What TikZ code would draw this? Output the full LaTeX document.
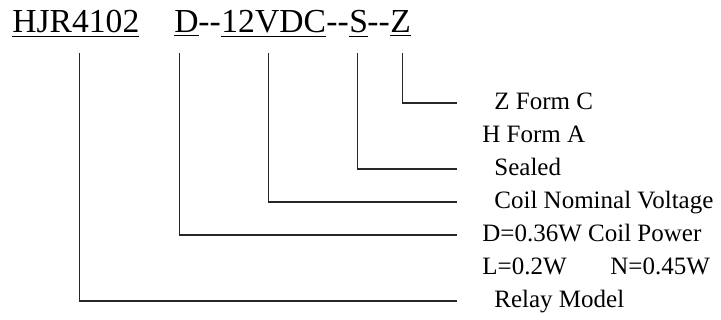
\documentclass[tikz,border=0pt]{standalone}
\usepackage{fontspec}
\setmainfont{Liberation Serif}
\usepackage{tikz}

\begin{document}
\begin{tikzpicture}[x=0.5pt,y=0.5pt]
\tikzstyle{every node}+=[inner sep=0pt]
\tikzstyle{part}=[anchor=base west, font=\fontsize{16.8}{20}\selectfont]
\tikzstyle{lbl}=[anchor=west, font=\fontsize{12.5}{15}\selectfont, text height=0.66em, text depth=0pt]
\tikzstyle{conn}=[draw=black!85, line width=0.75pt]
\useasboundingbox (0,0) rectangle (721,-320);
% model code
\draw (12,-33) node [part] (hjr) {\underline{HJR4102}};
\draw (174,-33) node [part] (d) {\underline{D}};
\draw (198,-33) node [part] (dasha) {-{}-};
\draw (221,-33) node [part] (volt) {\underline{12VDC}};
\draw (326,-33) node [part] (dashb) {-{}-};
\draw (349,-33) node [part] (s) {\underline{S}};
\draw (367,-33) node [part] (dashc) {-{}-};
\draw (390,-33) node [part] (z) {\underline{Z}};
% meanings
\draw (494,-103) node [lbl] (zform) {Z Form C};
\draw (482,-136) node [lbl] (hform) {H Form A};
\draw (494,-169) node [lbl] (sealed) {Sealed};
\draw (494,-202) node [lbl] (nomvolt) {Coil Nominal Voltage};
\draw (482,-235) node [lbl] (power) {D=0.36W Coil Power};
\draw (482,-268) node [lbl] (powerb) {L=0.2W\hspace{1.75em}N=0.45W};
\draw (494,-301) node [lbl] (relay) {Relay Model};
\coordinate (lend) at (457,0);
% leaders
\draw [conn] ([xshift=0.85pt,yshift=-10pt]z.base) |- (zform.west -| lend);
\draw [conn] ([xshift=-0.7pt,yshift=-10pt]s.base) |- (sealed.west -| lend);
\draw [conn] ([xshift=-2.5pt,yshift=-10pt]volt.base) |- (nomvolt.west -| lend);
\draw [conn] ([xshift=-3.5pt,yshift=-10pt]d.base) |- (power.west -| lend);
\draw [conn] ([xshift=1.75pt,yshift=-10pt]hjr.base) |- (relay.west -| lend);
\end{tikzpicture}
\end{document}
